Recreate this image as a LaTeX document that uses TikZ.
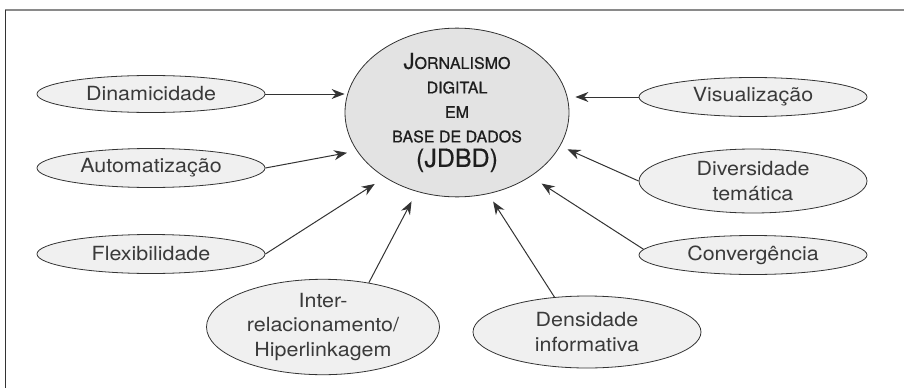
\documentclass[tikz,border=0pt]{standalone}
\usepackage{fontspec}
\setmainfont{TeX Gyre Heros}[FakeStretch=1.1]
\newfontfamily\centerfont{TeX Gyre Heros}[FakeBold=0.6]
\usetikzlibrary{shapes.geometric,arrows.meta}
\definecolor{ink}{HTML}{333333}
\definecolor{txt}{HTML}{3A3A3A}
\definecolor{bubfill}{HTML}{F0F0F0}
\definecolor{cfill}{HTML}{E3E3E3}
\definecolor{topline}{HTML}{8A8A8A}
\definecolor{ctext}{HTML}{1E1E1E}
\begin{document}
\begin{tikzpicture}[x=1pt,y=-1pt,
  bub/.style={ellipse,draw=ink,line width=0.8pt,fill=bubfill,inner sep=0pt,
    text=txt,font=\fontsize{19.5}{24.5}\selectfont,align=center,
    minimum width=228pt,minimum height=39pt},
  arr/.style={draw=ink,line width=1pt,-{Stealth[length=13pt,width=10pt]}}]
\useasboundingbox (0,0) rectangle (904,388);
\draw[topline,line width=2pt] (5,10) -- (904,10);
\draw[ink,line width=0.8pt] (5,10) -- (5,388);

\node[ellipse,draw=ink,line width=0.8pt,fill=cfill,inner sep=0pt,
  minimum width=224pt,minimum height=149pt,align=center,text=ctext,
  font=\centerfont\fontsize{16}{24.5}\selectfont] (jdbd) at (457,112.5)
  {{\fontsize{22}{24.5}\selectfont J}ORNALISMO\\ DIGITAL\\ EM\\ BASE DE DADOS\\
   {\fontsize{25}{24.5}\selectfont (JDBD)}};

\node[bub,minimum height=37pt] (dina) at (151,94) {Dinamicidade};
\node[bub] (auto) at (151,168) {Automatização};
\node[bub] (flex) at (151,254) {Flexibilidade};
\node[bub,minimum width=233pt,minimum height=85pt] (inter) at (323,327)
  {Inter-\\ relacionamento/\\ Hiperlinkagem};
\node[bub,minimum height=72pt] (dens) at (587,332) {Densidade\\ informativa};
\node[bub] (visu) at (753,97) {Visualização};
\node[bub,minimum height=64pt] (div) at (753,181) {Diversidade\\ temática};
\node[bub] (conv) at (753,255) {Convergência};

\draw[arr] (dina.east) -- (dina.east -| jdbd.west);
\draw[arr,shorten >=10pt] (auto.east) -- (jdbd.201);
\draw[arr,shorten >=12pt] (flex.east) -- (jdbd.222);
\draw[arr,shorten >=11pt] (inter.44) -- (jdbd.243);
\draw[arr,shorten >=9pt] (dens.133) -- (jdbd.291);
\draw[arr,shorten >=13pt] (conv.177) -- (jdbd.319);
\draw[arr,shorten >=8pt] (div.west) -- (jdbd.342);
\draw[arr,shorten >=6pt] (visu.west) -- (visu.west -| jdbd.east);
\end{tikzpicture}
\end{document}
